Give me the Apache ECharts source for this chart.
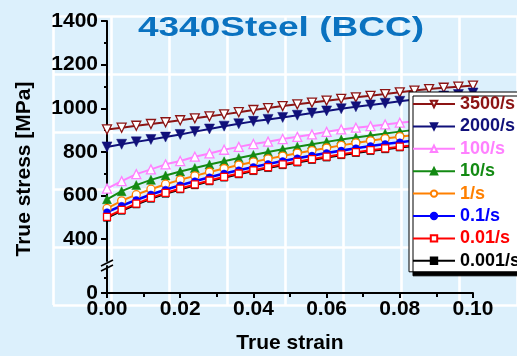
<!DOCTYPE html>
<html><head><meta charset="utf-8">
<script src="https://cdn.jsdelivr.net/npm/echarts@6/dist/echarts.min.js"></script>
<style>html,body{margin:0;padding:0;background:#dcf0fc;}#c{width:517px;height:356px;}</style>
</head><body><div id="c"></div>
<script>
const strain = [0, 0.004, 0.008, 0.012, 0.016, 0.02, 0.024, 0.028, 0.032, 0.036, 0.04, 0.044, 0.048, 0.052, 0.056, 0.06, 0.064, 0.068, 0.072, 0.076, 0.08, 0.084, 0.088, 0.092, 0.096, 0.1];
const rateNames = ['3500/s', '2000/s', '100/s', '10/s', '1/s', '0.1/s', '0.01/s', '0.001/s'];
const s3500 = [903, 911, 920, 928, 936, 945, 954, 963, 972, 982, 992, 1001, 1010, 1018, 1026, 1035, 1043, 1050, 1057, 1065, 1073, 1081, 1088, 1094, 1099, 1104];
const s2000 = [823, 835, 846, 857, 868, 880, 893, 905, 918, 929, 940, 949, 958, 968, 978, 988, 998, 1007, 1015, 1023, 1032, 1040, 1048, 1056, 1063, 1070];
const s100 = [632, 666, 698, 720, 743, 758, 778, 793, 810, 823, 836, 847, 859, 869, 880, 892, 903, 911, 918, 926, 934, 941, 948, 955, 962, 968];
const s10 = [583, 620, 648, 672, 692, 710, 726, 742, 757, 772, 786, 800, 812, 824, 835, 846, 857, 866, 875, 884, 893, 901, 909, 917, 924, 931];
const s1 = [541, 576, 604, 629, 652, 672, 690, 708, 724, 740, 754, 768, 781, 794, 806, 818, 830, 841, 851, 861, 870, 878, 886, 893, 900, 906];
const s01 = [524, 553, 580, 605, 627, 647, 666, 684, 701, 716, 731, 745, 758, 771, 783, 795, 806, 817, 827, 836, 844, 852, 859, 866, 872, 878];
const s001 = [502, 534, 563, 589, 612, 632, 651, 669, 686, 701, 716, 730, 743, 755, 767, 778, 789, 799, 808, 816, 824, 831, 838, 844, 850, 856];
const s0001 = [498, 530, 559, 585, 608, 628, 647, 665, 682, 697, 712, 726, 739, 751, 763, 774, 785, 795, 804, 812, 820, 827, 834, 840, 846, 852];
const xTicks = [0, 0.02, 0.04, 0.06, 0.08, 0.1];
const yMajor = [400, 600, 800, 1000, 1200, 1400];
const yMinor = [500, 700, 900, 1100, 1300];
const yLowMajor = [0];
const yLowMinor = [100];

const values = [s3500, s2000, s100, s10, s1, s01, s001, s0001];
const colors = ['#8c1414', '#10107a', '#ff80ff', '#138a13', '#ff8000', '#0000ff', '#ff0000', '#000000'];
const symbols = ['triangle', 'triangle', 'triangle', 'triangle', 'circle', 'circle', 'rect', 'rect'];
const rotates = [180, 180, 0, 0, 0, 0, 0, 0];
const hollow = [true, false, true, false, true, false, true, false];
const sizes = [9, 10, 9, 9, 8, 7, 7, 7];
const FONT = '"Liberation Sans", Arial, sans-serif';

const series = values.map((v, i) => ({
  name: rateNames[i],
  type: 'line',
  xAxisIndex: 0, yAxisIndex: 0,
  data: strain.map((x, j) => [x, v[j]]),
  symbol: symbols[i],
  symbolRotate: rotates[i],
  symbolSize: sizes[i],
  showAllSymbol: true,
  z: i === 7 ? 1 : 2,
  lineStyle: { color: colors[i], width: i === 5 ? 2.6 : 2 },
  itemStyle: hollow[i] ? { color: '#ffffff', borderColor: colors[i], borderWidth: 1.3 } : { color: colors[i], borderColor: colors[i], borderWidth: 0.5 },
  emphasis: { disabled: true },
  animation: false
}));

const chart = echarts.init(document.getElementById('c'), null, { renderer: 'canvas' });
const axisBlack = { color: '#000', width: 2 };
const labelStyle = { color: '#000', fontWeight: 'bold', fontSize: 21, fontFamily: FONT };

chart.setOption({
  backgroundColor: '#dcf0fc',
  animation: false,
  grid: [
    { left: 107, right: 44, top: 21, bottom: 95 },
    { left: 107, right: 44, top: 266, bottom: 63 },
    { left: 53, top: 16.5, width: 479.2, height: 288.5 }
  ],
  xAxis: [
    { gridIndex: 0, type: 'value', min: 0, max: 0.1, show: false },
    { gridIndex: 1, type: 'value', min: 0, max: 0.1, interval: 0.02,
      axisLine: { show: true, lineStyle: axisBlack },
      axisTick: { show: true, inside: false, length: 5, lineStyle: { color: '#000', width: 2 } },
      minorTick: { show: true, splitNumber: 2, length: 4, lineStyle: { color: '#000', width: 2 } },
      axisLabel: Object.assign({ margin: 6, formatter: v => v.toFixed(2) }, labelStyle),
      splitLine: { show: false },
      name: 'True strain', nameLocation: 'middle', nameGap: 40,
      nameTextStyle: { color: '#000', fontWeight: 'bold', fontSize: 21, fontFamily: FONT } },
    { gridIndex: 2, type: 'value', min: 0, max: 8, interval: 1, z: 0,
      axisLine: { show: false }, axisTick: { show: false }, axisLabel: { show: false },
      splitLine: { show: true, lineStyle: { color: '#ffffff', width: 2.6 } } }
  ],
  yAxis: [
    { gridIndex: 0, type: 'value', min: 300, max: 1400, position: 'left',
      axisLine: { show: true, lineStyle: axisBlack },
      axisTick: { show: true, inside: false, length: 6, customValues: yMajor, lineStyle: { color: '#000', width: 2 } },
      axisLabel: Object.assign({ margin: 9, customValues: yMajor, formatter: v => String(v) }, labelStyle),
      splitLine: { show: false } },
    { gridIndex: 0, type: 'value', min: 300, max: 1400, position: 'left',
      axisLine: { show: false },
      axisTick: { show: true, inside: false, length: 3, customValues: yMinor, lineStyle: { color: '#000', width: 2 } },
      axisLabel: { show: false }, splitLine: { show: false } },
    { gridIndex: 1, type: 'value', min: 0, max: 180, position: 'left',
      axisLine: { show: true, lineStyle: axisBlack },
      axisTick: { show: true, inside: false, length: 6, customValues: yLowMajor, lineStyle: { color: '#000', width: 2 } },
      axisLabel: Object.assign({ margin: 9, customValues: yLowMajor, formatter: v => String(v) }, labelStyle),
      splitLine: { show: false } },
    { gridIndex: 1, type: 'value', min: 0, max: 180, position: 'left',
      axisLine: { show: false },
      axisTick: { show: true, inside: false, length: 3, customValues: yLowMinor, lineStyle: { color: '#000', width: 2 } },
      axisLabel: { show: false }, splitLine: { show: false } },
    { gridIndex: 2, type: 'value', min: 0, max: 5, interval: 1, z: 0,
      axisLine: { show: false }, axisTick: { show: false }, axisLabel: { show: false },
      splitLine: { show: true, lineStyle: { color: '#ffffff', width: 2.6 } } }
  ],
  legend: {
    orient: 'vertical', left: 409, top: 92, z: 20,
    padding: [3, 8, 2, 3], itemGap: 4.4, itemWidth: 42, itemHeight: 8,
    backgroundColor: '#ffffff', borderColor: '#000', borderWidth: 1,
    shadowColor: '#000', shadowBlur: 0, shadowOffsetX: 4, shadowOffsetY: 4,
    data: rateNames.map((n, i) => ({ name: n, textStyle: { color: colors[i] } })),
    textStyle: { fontWeight: 'bold', fontSize: 18, fontFamily: FONT },
    selectedMode: false
  },
  graphic: [
    { type: 'text', x: 281, y: 28, scaleX: 1.3, z: 100,
      style: { text: '4340Steel (BCC)', fill: '#0a72c0', font: 'bold 28.5px ' + FONT, textAlign: 'center', textVerticalAlign: 'middle' } },
    { type: 'text', x: 24, y: 169, rotation: Math.PI / 2, z: 100,
      style: { text: 'True stress [MPa]', fill: '#000', font: 'bold 21px ' + FONT, textAlign: 'center', textVerticalAlign: 'middle' } },
    { type: 'line', z: 100, shape: { x1: 101, y1: 266, x2: 113, y2: 260 }, style: { stroke: '#000', lineWidth: 1.6 } },
    { type: 'line', z: 100, shape: { x1: 101, y1: 271, x2: 113, y2: 265 }, style: { stroke: '#000', lineWidth: 1.6 } }
  ],
  series: series
});
</script></body></html>
